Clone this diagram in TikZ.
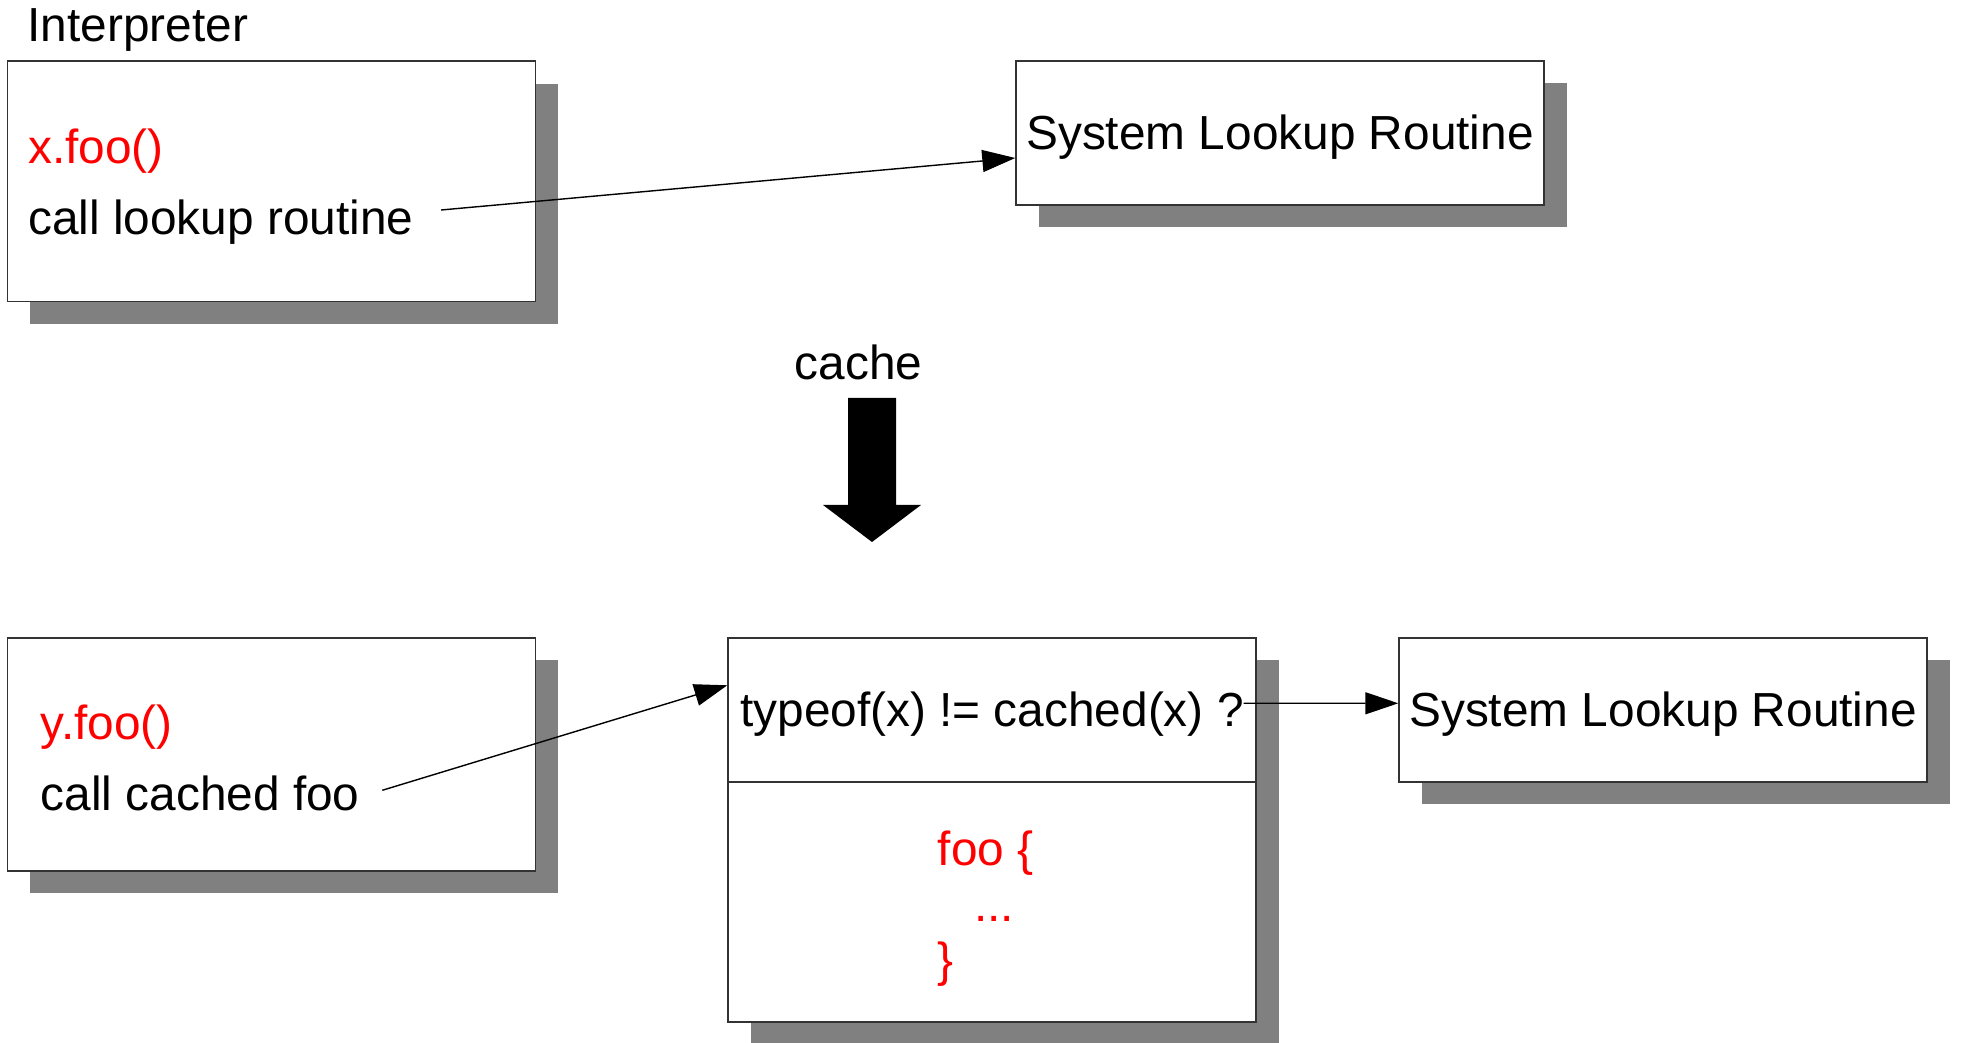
\documentclass[tikz,border=0pt]{standalone}
\usepackage{fontspec}
\setmainfont{Liberation Sans}
\usetikzlibrary{arrows.meta,shadows,positioning}
\tikzset{>={Triangle[length=3.3mm,width=2.2mm]}}
\tikzset{every node/.style={font=\fontsize{13.6}{16}\selectfont}}
\tikzset{box/.style={draw=black!80,fill=white,minimum width=5.28cm,inner sep=0,drop shadow={shadow xshift=.225cm,shadow yshift=-.225cm,fill=gray,opacity=1}}}
\tikzset{boxtext/.style={text height=.43cm}}
\tikzset{txt/.style={inner sep=0}}
\tikzset{code/.style={text=red}}

\begin{document}
\begin{tikzpicture}
	\useasboundingbox (0,0) rectangle (19.62,-10.43);

	\node[txt,anchor=west] (interp) at (.27,-.30) {Interpreter};
	\node[box,minimum height=2.405cm] (interpbox) at (2.716,-1.813) {};
	\node[txt,code,anchor=west] (xfoo) at (.275,-1.51) {x.foo()};
	\node[txt,anchor=west] (lookup) at (.275,-2.225) {call lookup routine};
	\node[box,boxtext,minimum height=1.44cm] (sys1) at (12.80,-1.33) {System Lookup Routine};
	\draw[->] ([xshift=.27cm,yshift=.125cm]lookup.east) -- ([yshift=-.25cm]sys1.west);

	\node[txt] (cache) at (8.584,-3.629) {cache};
	\fill (8.48,-3.98) -- (8.96,-3.98) -- (8.96,-5.05) -- (9.21,-5.05) -- (8.72,-5.42) -- (8.23,-5.05) -- (8.48,-5.05) -- cycle;

	\node[box,minimum height=2.33cm] (callbox) at (2.716,-7.545) {};
	\node[txt,code,anchor=west] (yfoo) at (.40,-7.27) {y.foo()};
	\node[txt,anchor=west] (cached) at (.40,-7.933) {call cached foo};
	\node[box,minimum height=3.84cm] (stub) at (9.92,-8.30) {};
	\node[draw=black!80,boxtext,minimum width=5.28cm,minimum height=1.44cm,inner sep=0,anchor=north] (check) at (stub.north) {typeof(x) != cached(x) ?};
	\node[txt,code,anchor=west] (foo) at (9.372,-8.53) {foo \{};
	\node[txt,code,anchor=base west] (dots) at (9.735,-9.22) {...};
	\node[txt,code,anchor=west] (close) at (9.372,-9.645) {\}};
	\node[box,boxtext,minimum height=1.44cm] (sys2) at (16.63,-7.10) {System Lookup Routine};
	\draw[->] ([xshift=.22cm,yshift=.03cm]cached.east) -- ([yshift=-.48cm]stub.north west);
	\draw[->] ([xshift=-.13cm,yshift=.067cm]check.east) -- ([yshift=.067cm]sys2.west);

\end{tikzpicture}
\end{document}
